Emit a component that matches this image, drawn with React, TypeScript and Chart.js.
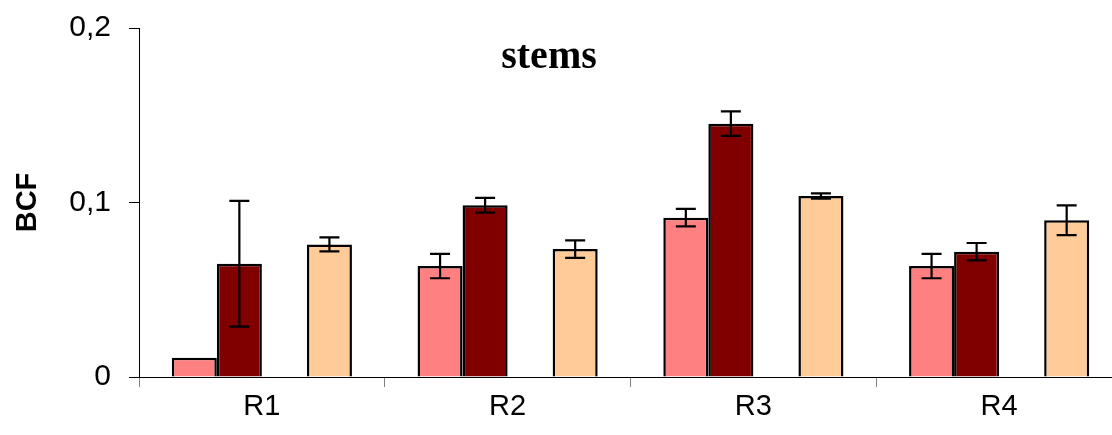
import React, { useEffect, useRef } from "react";
import { Chart, registerables } from "chart.js";

Chart.register(...registerables);

const categories = ["R1", "R2", "R3", "R4"];
const seriesAValues = [0.011, 0.0636, 0.0913, 0.0636];
const seriesAErrors = [0, 0.007, 0.005, 0.007];
const seriesBValues = [0.0649, 0.0984, 0.1452, 0.0718];
const seriesBErrors = [0.036, 0.0042, 0.007, 0.005];
const seriesCValues = [null, null, null, null];
const seriesCErrors = [0, 0, 0, 0];
const seriesDValues = [0.076, 0.0733, 0.1037, 0.0898];
const seriesDErrors = [0.004, 0.005, 0.0015, 0.0085];
const yTickLabels = ["0", "0,1", "0,2"];
const chartTitle = "stems";
const yAxisTitle = "BCF";

const errorBarPlugin = {
  id: "errorBars",
  afterDatasetsDraw(chart: any) {
    const ctx = chart.ctx;
    const yScale = chart.scales.y;
    ctx.save();
    ctx.strokeStyle = "#000";
    ctx.lineWidth = 2.2;
    chart.data.datasets.forEach((ds: any, i: number) => {
      const meta = chart.getDatasetMeta(i);
      const errs = ds.errors || [];
      meta.data.forEach((bar: any, j: number) => {
        const v = ds.data[j];
        const e = errs[j];
        if (v == null || !e) return;
        const x = bar.x;
        const yt = yScale.getPixelForValue(v + e);
        const yb = yScale.getPixelForValue(v - e);
        const cap = 10;
        ctx.beginPath();
        ctx.moveTo(x, yt);
        ctx.lineTo(x, yb);
        ctx.moveTo(x - cap, yt);
        ctx.lineTo(x + cap, yt);
        ctx.moveTo(x - cap, yb);
        ctx.lineTo(x + cap, yb);
        ctx.stroke();
      });
    });
    ctx.restore();
  },
};

const titlePlugin = {
  id: "innerTitle",
  afterDraw(chart: any) {
    const ctx = chart.ctx;
    ctx.save();
    ctx.fillStyle = "#000";
    ctx.font = "bold 40px 'Liberation Serif', 'Times New Roman', serif";
    ctx.textAlign = "center";
    ctx.textBaseline = "alphabetic";
    ctx.fillText(chartTitle, 549, 68);
    ctx.restore();
  },
};

export default function App() {
  const ref = useRef<HTMLCanvasElement | null>(null);
  useEffect(() => {
    if (!ref.current) return;
    const common = { borderColor: "#000", borderWidth: 2.5, categoryPercentage: 0.733, barPercentage: 1 };
    const chart = new Chart(ref.current, {
      type: "bar",
      data: {
        labels: categories,
        datasets: [
          { ...common, label: "A", data: seriesAValues, errors: seriesAErrors, backgroundColor: "#FF8080" } as any,
          { ...common, label: "B", data: seriesBValues, errors: seriesBErrors, backgroundColor: "#800000" } as any,
          { ...common, label: "C", data: seriesCValues, errors: seriesCErrors, backgroundColor: "#9999FF" } as any,
          { ...common, label: "D", data: seriesDValues, errors: seriesDErrors, backgroundColor: "#FFCC99" } as any,
        ],
      },
      options: {
        responsive: false,
        animation: false,
        devicePixelRatio: 1,
        layout: { padding: { top: 28, right: 2, left: 0, bottom: 0 } },
        plugins: { legend: { display: false }, tooltip: { enabled: false }, title: { display: false } },
        scales: {
          x: {
            grid: { drawOnChartArea: false, drawTicks: true, tickLength: 10, color: "#808080", offset: true },
            border: { color: "#000", width: 1 },
            ticks: { color: "#000", padding: 3, font: { family: "'Liberation Sans', Arial, sans-serif", size: 29 } },
            afterFit: (s: any) => { s.height = 58; s.paddingLeft = 0; s.paddingRight = 0; },
          },
          y: {
            min: 0,
            max: 0.2,
            grid: { drawOnChartArea: false, drawTicks: true, tickLength: 10, color: "#000" },
            border: { color: "#000", width: 1 },
            ticks: {
              stepSize: 0.1,
              color: "#000",
              padding: 18,
              font: { family: "'Liberation Sans', Arial, sans-serif", size: 30 },
              callback: (_v: any, i: number) => yTickLabels[i],
            },
            title: {
              display: true,
              text: yAxisTitle,
              color: "#000",
              padding: { top: 11, bottom: 0 },
              font: { family: "'Liberation Sans', Arial, sans-serif", size: 29, weight: "bold" },
            },
            afterFit: (s: any) => { s.width = 139; s.paddingTop = 0; s.paddingBottom = 0; },
          },
        },
      } as any,
      plugins: [errorBarPlugin, titlePlugin],
    });
    return () => chart.destroy();
  }, []);
  return (
    <div style={{ position: "fixed", left: 0, top: 0, width: 1112, height: 435, overflow: "hidden", background: "#fff" }}>
      <canvas ref={ref} width={1124} height={435} style={{ display: "block", width: 1124, height: 435 }} />
    </div>
  );
}
